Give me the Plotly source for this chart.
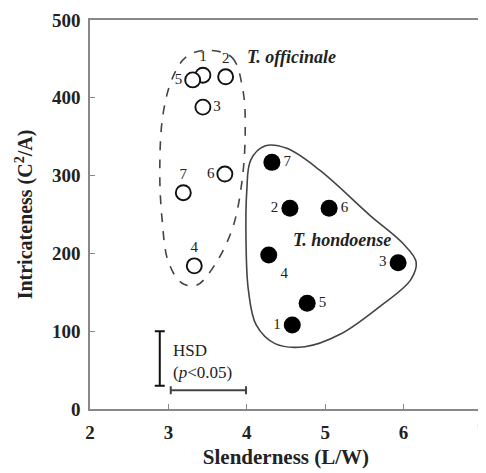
import plotly.graph_objects as go

# T. officinale (open circles)
off_x = [3.44, 3.73, 3.44, 3.33, 3.31, 3.72, 3.19]
off_y = [429, 427, 388, 184, 423, 302, 278]
off_lab = ["1", "2", "3", "4", "5", "6", "7"]
off_pos = ["top center", "top center", "middle right", "top center", "middle left", "middle left", "top center"]

# T. hondoense (filled circles)
hon_x = [4.58, 4.55, 5.93, 4.28, 4.77, 5.05, 4.32]
hon_y = [108, 258, 188, 198, 136, 258, 317]
hon_lab = ["1", "2", "3", "4", "5", "6", "7"]
hon_pos = ["middle left", "middle left", "middle left", "bottom right", "middle right", "middle right", "middle right"]

# group outlines
off_hull_x = [3.47, 3.81, 3.95, 3.98, 3.94, 3.82, 3.59, 3.36, 3.17, 3.00, 2.92, 2.89, 2.93, 3.05, 3.22, 3.47]
off_hull_y = [461, 452, 410, 359, 294, 233, 185, 159, 162, 189, 243, 307, 378, 425, 452, 461]
hon_hull_x = [4.23, 4.51, 4.93, 5.57, 5.99, 6.16, 6.09, 5.70, 5.19, 4.74, 4.36, 4.12, 4.02, 3.99, 4.00, 4.05, 4.23]
hon_hull_y = [338, 335, 307, 249, 213, 189, 166, 132, 96, 80, 84, 108, 153, 217, 281, 320, 338]

# HSD bars
hsd_y_center = [2.89, 65]
hsd_y_half = 35
hsd_x_center = [3.51, 24]
hsd_x_half = 0.48

# axis ticks
x_ticks = [2, 3, 4, 5, 6]
x_edge_tick = "7"
y_ticks = [0, 100, 200, 300, 400, 500]

FONT = "Liberation Serif"

fig = go.Figure()
fig.add_trace(go.Scatter(x=off_hull_x, y=off_hull_y, mode="lines",
                         line=dict(color="#444", width=1.6, dash="dash", shape="spline", smoothing=1.0),
                         hoverinfo="skip"))
fig.add_trace(go.Scatter(x=hon_hull_x, y=hon_hull_y, mode="lines",
                         line=dict(color="#444", width=1.6, shape="spline", smoothing=1.0),
                         hoverinfo="skip"))
fig.add_trace(go.Scatter(x=off_x, y=off_y, mode="markers+text", text=off_lab, textposition=off_pos,
                         textfont=dict(family=FONT, size=15, color="#222"),
                         marker=dict(size=15, color="white", line=dict(color="#111", width=1.9))))
fig.add_trace(go.Scatter(x=hon_x, y=hon_y, mode="markers+text", text=hon_lab, textposition=hon_pos,
                         textfont=dict(family=FONT, size=15, color="#222"),
                         marker=dict(size=17, color="black", line=dict(color="black", width=0))))
fig.add_trace(go.Scatter(x=[hsd_y_center[0]], y=[hsd_y_center[1]], mode="markers",
                         marker=dict(size=1, color="rgba(0,0,0,0)"),
                         error_y=dict(type="constant", value=hsd_y_half, color="#111", thickness=2, width=5)))
fig.add_trace(go.Scatter(x=[hsd_x_center[0]], y=[hsd_x_center[1]], mode="markers",
                         marker=dict(size=1, color="rgba(0,0,0,0)"),
                         error_x=dict(type="constant", value=hsd_x_half, color="#444", thickness=2, width=4)))

fig.add_annotation(x=3.03, y=90, xanchor="left", yanchor="top", showarrow=False, align="left",
                   text="HSD<br>(<i>p</i>&lt;0.05)", font=dict(family=FONT, size=17, color="#222"))
fig.add_annotation(x=3.98, y=452, xanchor="left", yanchor="middle", showarrow=False,
                   text="<i>T. officinale</i>", font=dict(family=FONT, size=18, color="#222", weight="bold"))
fig.add_annotation(x=5.21, y=217, xanchor="center", yanchor="middle", showarrow=False,
                   text="<i>T. hondoense</i>", font=dict(family=FONT, size=18, color="#222", weight="bold"))
# right-edge x tick label, placed at the right end of the axis domain
fig.add_annotation(xref="paper", yref="paper", x=1, y=0, xanchor="center", yanchor="top",
                   yshift=-9, showarrow=False, text=x_edge_tick,
                   font=dict(family=FONT, size=19, color="#222", weight="bold"))

axis_common = dict(showline=True, linecolor="#888", linewidth=1.5, mirror=True,
                   ticks="inside", ticklen=5, tickcolor="#888", tickwidth=1.2,
                   showgrid=False, zeroline=False, automargin=False,
                   tickfont=dict(family=FONT, size=19, color="#222", weight="bold"))
fig.update_xaxes(range=[2, 7], tickvals=x_ticks, ticklabelstandoff=5,
                 title=dict(text="Slenderness (L/W)", font=dict(family=FONT, size=21, color="#222", weight="bold"), standoff=8),
                 **axis_common)
fig.update_yaxes(range=[0, 500], tickvals=y_ticks, ticklabelstandoff=4,
                 title=dict(text="Intricateness (C<sup>2</sup>/A)", font=dict(family=FONT, size=20, color="#222", weight="bold"), standoff=14),
                 **axis_common)
# the page adds an 8 px body margin; plot area placed to match the reference window
fig.update_layout(width=478, height=465, margin=dict(l=82, r=4, t=12, b=64),
                  plot_bgcolor="white", paper_bgcolor="white", showlegend=False)
fig.write_html("out.html")
